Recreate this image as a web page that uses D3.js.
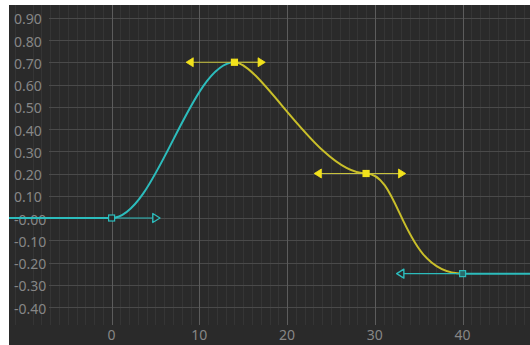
<!DOCTYPE html>
<html>
<head>
<meta charset="utf-8">
<script src="https://cdn.jsdelivr.net/npm/d3@7"></script>
<style>
  html, body { margin: 0; padding: 0; background: #ffffff; }
  svg { display: block; }
  text { font-family: "Noto Sans", "DejaVu Sans", sans-serif; }
</style>
</head>
<body>
<svg id="chart" width="530" height="345"></svg>
<script>
// Bezier track: keyframe times and values
const keyTimes  = [0, 14, 29, 40];
const keyValues = [0, 0.70, 0.20, -0.25];
// Handle offsets in frames (value offsets are zero: flat tangents)
const inHandleTime  = [null, -5, -5.4, -7];
const outHandleTime = [5, 3, 4, null];
// Which keys are selected (drawn yellow)
const keySelected = [false, true, true, false];

// Axis ticks
const xTicks = [0, 10, 20, 30, 40];
const yTicks = [0.9, 0.8, 0.7, 0.6, 0.5, 0.4, 0.3, 0.2, 0.1, 0, -0.1, -0.2, -0.3, -0.4];
const yTickLabels = ["0.90", "0.80", "0.70", "0.60", "0.50", "0.40", "0.30", "0.20", "0.10",
                     "-0.00", "-0.10", "-0.20", "-0.30", "-0.40"];

const W = 530, H = 345;
const panel = { left: 9, top: 5, right: 530, bottom: 345 };
const gridBottom = 325;
const hLineStart = 49;

const x = d3.scaleLinear().domain([0, 40]).range([111.6, 462.6]);
const y = d3.scaleLinear().domain([0, 0.9]).range([218, 17.75]);

const CYAN = "#2cbcbc";
const YELLOW_CURVE = "#c9bf2a";
const YELLOW = "#f2e21c";

const svg = d3.select("#chart");

svg.append("rect")
  .attr("x", panel.left).attr("y", panel.top)
  .attr("width", panel.right - panel.left).attr("height", panel.bottom - panel.top)
  .attr("fill", "#2a2a2a");

const clip = svg.append("clipPath").attr("id", "panelClip")
  .append("rect")
  .attr("x", panel.left).attr("y", panel.top)
  .attr("width", panel.right - panel.left).attr("height", panel.bottom - panel.top);

const g = svg.append("g").attr("clip-path", "url(#panelClip)");

// Minor frame lines
const tMin = Math.ceil(x.invert(panel.left)), tMax = Math.floor(x.invert(panel.right));
const minor = d3.range(tMin, tMax + 1).filter(t => t % 10 !== 0);
g.append("g").selectAll("line").data(minor).join("line")
  .attr("x1", d => Math.round(x(d)) + 0.5).attr("x2", d => Math.round(x(d)) + 0.5)
  .attr("y1", panel.top).attr("y2", gridBottom)
  .attr("stroke", "#353535").attr("stroke-width", 1);

// Horizontal value lines
g.append("g").selectAll("line").data(yTicks).join("line")
  .attr("x1", hLineStart).attr("x2", panel.right)
  .attr("y1", d => Math.round(y(d)) + 0.5).attr("y2", d => Math.round(y(d)) + 0.5)
  .attr("stroke", "#4a4a4a").attr("stroke-width", 1);

// Major frame lines
g.append("g").selectAll("line").data(xTicks).join("line")
  .attr("x1", d => Math.round(x(d)) + 0.5).attr("x2", d => Math.round(x(d)) + 0.5)
  .attr("y1", panel.top).attr("y2", gridBottom)
  .attr("stroke", "#5c5c5c").attr("stroke-width", 1);

// Value labels
g.append("g").selectAll("text").data(yTicks).join("text")
  .attr("x", 14).attr("y", d => y(d) + 6.6)
  .attr("font-size", 14).attr("fill", "#868686")
  .text((d, i) => yTickLabels[i]);

// Frame labels
g.append("g").selectAll("text").data(xTicks).join("text")
  .attr("x", d => x(d)).attr("y", 340)
  .attr("text-anchor", "middle")
  .attr("font-size", 14).attr("fill", "#868686")
  .text(d => d);

// Flat extensions before the first and after the last key
const last = keyTimes.length - 1;
g.append("line")
  .attr("x1", panel.left).attr("x2", x(keyTimes[0]))
  .attr("y1", y(keyValues[0])).attr("y2", y(keyValues[0]))
  .attr("stroke", CYAN).attr("stroke-width", 2);
g.append("line")
  .attr("x1", x(keyTimes[last])).attr("x2", panel.right)
  .attr("y1", y(keyValues[last])).attr("y2", y(keyValues[last]))
  .attr("stroke", CYAN).attr("stroke-width", 2);

// Bezier segments between keys
for (let i = 0; i < last; i++) {
  const p = d3.path();
  p.moveTo(x(keyTimes[i]), y(keyValues[i]));
  p.bezierCurveTo(
    x(keyTimes[i] + outHandleTime[i]), y(keyValues[i]),
    x(keyTimes[i + 1] + inHandleTime[i + 1]), y(keyValues[i + 1]),
    x(keyTimes[i + 1]), y(keyValues[i + 1]));
  g.append("path").attr("d", p.toString())
    .attr("fill", "none")
    .attr("stroke", keySelected[i] ? YELLOW_CURVE : CYAN)
    .attr("stroke-width", 2);
}

// Tangent handles
function arrow(px, py, dir, color, filled) {
  const s = 4.5;
  const pts = [[px + dir * s, py], [px - dir * s * 0.6, py - s], [px - dir * s * 0.6, py + s]];
  g.append("path")
    .attr("d", "M" + pts.map(q => q.join(",")).join("L") + "Z")
    .attr("fill", filled ? color : "#2a2a2a")
    .attr("stroke", color).attr("stroke-width", filled ? 0.8 : 1.4)
    .attr("stroke-linejoin", "round");
}

keyTimes.forEach((t, i) => {
  const color = keySelected[i] ? YELLOW : CYAN;
  const kx = x(t), ky = y(keyValues[i]);
  const lineColor = keySelected[i] ? "#c8c23c" : CYAN;
  [[inHandleTime[i], -1], [outHandleTime[i], 1]].forEach(([h, dir]) => {
    if (h == null) return;
    const hx = x(t + h);
    g.append("line")
      .attr("x1", kx).attr("x2", hx).attr("y1", ky).attr("y2", ky)
      .attr("stroke", lineColor).attr("stroke-width", 1.2);
    arrow(hx, ky, dir, color, keySelected[i]);
  });
});

// Key markers
keyTimes.forEach((t, i) => {
  const sel = keySelected[i];
  g.append("rect")
    .attr("x", x(t) - 3).attr("y", y(keyValues[i]) - 3)
    .attr("width", 6).attr("height", 6)
    .attr("fill", sel ? YELLOW : (i === last ? "#2a6a6a" : "#2a2a2a"))
    .attr("stroke", sel ? YELLOW : CYAN).attr("stroke-width", 1.2);
});
</script>
</body>
</html>
